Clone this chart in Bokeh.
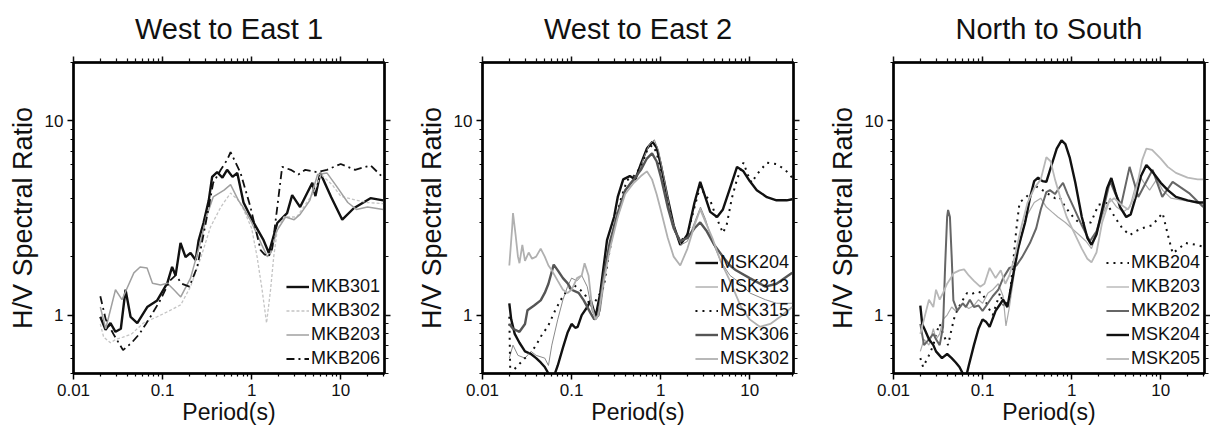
from bokeh.plotting import figure
from bokeh.layouts import row
from bokeh.models import (LogAxis, FixedTicker, CustomJSTickFormatter, Legend, LegendItem)
from bokeh.embed import file_html
from bokeh.resources import INLINE

FONT = "Liberation Sans"

# ---------------- data ----------------
x_ticks = [0.01, 0.1, 1, 10]
y_ticks = [1, 10]

# Panel 1: West to East 1
T_MKB301 = [0.02, 0.0229, 0.026, 0.0296, 0.034, 0.0384, 0.0437, 0.052, 0.0672, 0.087, 0.113, 0.128, 0.14, 0.159, 0.181,
            0.206, 0.235, 0.254, 0.288, 0.33, 0.36, 0.41, 0.47, 0.53, 0.61, 0.69, 0.81, 1.05, 1.36, 1.56, 1.94, 2.5,
            2.85, 3.5, 4.8, 5.2, 5.9, 7.8, 10.4, 14, 21.6, 30]
V_MKB301 = [0.98, 0.84, 0.91, 0.82, 0.85, 1.35, 0.98, 0.91, 1.1, 1.19, 1.46, 1.77, 1.6, 2.35, 1.99,
            2.09, 1.92, 2.43, 2.98, 3.9, 5.15, 5.45, 5.1, 5.6, 5.15, 5.4, 3.8, 3.0, 2.43, 2.09, 2.98, 3.35,
            4.15, 3.6, 4.8, 4.1, 5.4, 4.06, 3.1, 3.55, 4.0, 3.9]

T_MKB302 = [0.02, 0.0218, 0.026, 0.03, 0.036, 0.045, 0.061, 0.087, 0.123, 0.16, 0.206, 0.27, 0.345, 0.45, 0.58, 0.71,
            0.81, 1.0, 1.15, 1.31, 1.47, 1.63, 1.77, 1.94, 2.3, 3.2, 4.0, 5.0, 6.0, 8.0, 10, 15, 20, 30]
V_MKB302 = [0.9, 0.77, 0.72, 0.75, 0.77, 0.8, 0.91, 0.98, 1.06, 1.13, 1.4, 1.99, 2.84, 3.6, 4.25, 3.9,
            3.5, 2.8, 2.0, 1.35, 0.91, 1.35, 2.0, 2.74, 3.2, 3.2, 3.7, 4.3, 5.3, 4.7, 4.1, 3.9, 3.8, 3.75]

T_MKB203 = [0.02, 0.023, 0.0296, 0.035, 0.0476, 0.056, 0.067, 0.077, 0.095, 0.113, 0.134, 0.16, 0.206, 0.27, 0.31,
            0.37, 0.49, 0.58, 0.71, 0.8, 1.0, 1.3, 1.5, 1.65, 1.9, 2.4, 3.0, 3.5, 4.5, 5.5, 7.0, 9.0, 12, 15, 20, 30]
V_MKB203 = [1.1, 0.85, 1.35, 1.2, 1.65, 1.77, 1.75, 1.46, 1.43, 1.46, 1.35, 1.24, 1.55, 2.43, 3.2,
            4.06, 4.4, 4.7, 3.9, 3.6, 3.0, 2.3, 2.0, 2.1, 2.7, 3.2, 3.1, 3.3, 3.9, 5.3, 5.4, 4.6, 3.8, 3.5, 3.6, 3.5]

T_MKB206 = [0.02, 0.023, 0.028, 0.036, 0.045, 0.055, 0.065, 0.075, 0.095, 0.12, 0.14, 0.165, 0.2, 0.245, 0.29, 0.33,
            0.37, 0.45, 0.53, 0.58, 0.65, 0.75, 0.97, 1.26, 1.4, 1.55, 1.7, 1.94, 2.2, 2.75, 3.35, 4.0, 5.4, 7.0,
            10, 14.5, 21.6, 30]
V_MKB206 = [1.25, 0.95, 0.8, 0.66, 0.72, 0.8, 0.9, 1.0, 1.2, 1.5, 1.6, 1.45, 1.4, 1.77, 2.64, 3.6,
            4.8, 5.6, 6.3, 6.9, 6.2, 5.4, 3.6, 2.16, 2.05, 2.0, 2.2, 3.6, 5.8, 5.6, 5.3, 5.6, 5.45, 5.6,
            6.0, 5.6, 5.9, 5.1]

# Panel 2: West to East 2
T_MSK204 = [0.02, 0.021, 0.023, 0.026, 0.03, 0.035, 0.04, 0.045, 0.05, 0.055, 0.063, 0.07, 0.08, 0.09, 0.1, 0.11,
            0.117, 0.13, 0.15, 0.164, 0.186, 0.21, 0.25, 0.3, 0.33, 0.38, 0.45, 0.52, 0.6, 0.7, 0.81, 0.9, 1.0,
            1.2, 1.4, 1.66, 2.0, 2.4, 2.78, 3.2, 3.6, 4.3, 5.0, 6.0, 7.2, 8.5, 10, 12, 15.6, 20, 26, 30]
V_MSK204 = [1.15, 0.95, 0.8, 0.72, 0.65, 0.63, 0.6, 0.57, 0.54, 0.5, 0.48, 0.55, 0.68, 0.81, 0.9, 0.86,
            0.87, 1.0, 1.1, 1.19, 0.98, 1.3, 2.43, 3.2, 4.06, 5.0, 5.2, 5.0, 6.0, 7.2, 7.8, 7.3, 6.0,
            4.0, 2.9, 2.3, 2.6, 3.8, 4.85, 4.0, 3.4, 3.2, 3.5, 4.5, 5.8, 5.5, 4.9, 4.4, 4.05, 3.9, 3.9, 3.95]

T_MSK313 = [0.02, 0.022, 0.025, 0.03, 0.035, 0.04, 0.05, 0.055, 0.06, 0.07, 0.08, 0.09, 0.1, 0.115, 0.13, 0.15,
            0.17, 0.19, 0.21, 0.25, 0.3, 0.35, 0.45, 0.55, 0.65, 0.75, 0.85, 0.95, 1.1, 1.3, 1.5, 1.7, 2.0,
            2.4, 2.8, 3.2, 3.8, 4.7, 6, 8, 10, 15, 20, 30]
V_MSK313 = [0.6, 0.7, 0.62, 0.6, 0.65, 0.62, 0.6, 0.55, 0.7, 0.95, 1.2, 1.4, 1.55, 1.5, 1.6, 1.4,
            1.05, 0.95, 1.05, 1.9, 3.0, 3.8, 4.8, 5.2, 6.5, 7.6, 8.0, 7.0, 5.0, 3.3, 2.6, 2.3, 2.4,
            3.0, 3.6, 3.1, 2.4, 1.9, 1.6, 1.45, 1.3, 1.2, 1.15, 1.15]

T_MSK315 = [0.02, 0.0205, 0.025, 0.03, 0.035, 0.04, 0.047, 0.054, 0.065, 0.075, 0.09, 0.106, 0.127, 0.145, 0.164,
            0.19, 0.23, 0.26, 0.3, 0.36, 0.42, 0.5, 0.6, 0.7, 0.8, 0.9, 1.0, 1.2, 1.4, 1.66, 2.0, 2.4, 2.78,
            3.2, 3.6, 4.2, 4.7, 5.0, 5.5, 6.3, 7.2, 8.5, 9.5, 10.5, 12, 15.6, 20, 25, 30]
V_MSK315 = [0.98, 0.5, 0.55, 0.6, 0.64, 0.7, 0.8, 0.87, 1.05, 1.19, 1.35, 1.43, 1.34, 1.25, 1.1,
            1.2, 1.4, 2.0, 2.85, 4.0, 4.95, 5.2, 5.8, 7.0, 7.5, 6.9, 5.5, 3.8, 2.8, 2.4, 2.6, 3.6, 4.6,
            4.1, 3.9, 3.2, 2.84, 2.65, 2.9, 4.0, 5.0, 6.1, 5.3, 4.8, 5.3, 6.1, 6.0, 5.6, 5.1]

T_MSK306 = [0.02, 0.022, 0.026, 0.03, 0.032, 0.038, 0.045, 0.05, 0.055, 0.063, 0.07, 0.08, 0.09, 0.1, 0.12, 0.137,
            0.164, 0.18, 0.2, 0.23, 0.27, 0.33, 0.4, 0.5, 0.6, 0.7, 0.8, 0.9, 1.0, 1.2, 1.4, 1.66, 2.0, 2.4,
            2.78, 3.3, 4.0, 5.0, 6.0, 7.0, 10, 15, 20, 30]
V_MSK306 = [0.9, 0.85, 0.82, 0.9, 1.06, 1.12, 1.19, 1.3, 1.45, 1.82, 1.7, 1.55, 1.46, 1.35, 1.3, 1.19,
            1.02, 0.95, 1.0, 1.6, 2.4, 3.3, 4.4, 5.0, 5.6, 6.4, 6.8, 6.2, 5.2, 3.6, 2.8, 2.4, 2.5, 2.8,
            3.0, 2.7, 2.3, 2.0, 1.8, 1.7, 1.55, 1.4, 1.45, 1.65]

T_MSK302 = [0.02, 0.0215, 0.022, 0.0235, 0.025, 0.026, 0.028, 0.03, 0.033, 0.036, 0.04, 0.045, 0.05, 0.055, 0.06,
            0.07, 0.08, 0.09, 0.1, 0.115, 0.13, 0.14, 0.155, 0.17, 0.185, 0.2, 0.23, 0.27, 0.33, 0.4, 0.5, 0.6,
            0.7, 0.8, 0.9, 1.0, 1.2, 1.4, 1.66, 2.0, 2.4, 2.78, 3.2, 3.8, 4.7, 6, 8, 10, 13, 17, 22, 30]
V_MSK302 = [1.8, 2.8, 3.35, 2.6, 2.0, 1.85, 2.3, 1.9, 2.1, 1.95, 2.0, 2.2, 2.0, 1.8, 1.7,
            1.5, 1.35, 1.3, 1.35, 1.55, 1.6, 1.85, 1.6, 1.1, 0.95, 1.0, 1.5, 2.2, 3.2, 4.2, 4.8, 5.2,
            5.5, 5.0, 4.2, 3.5, 2.5, 2.0, 1.8, 2.2, 2.9, 3.5, 3.0, 2.5, 1.9, 1.5, 1.1, 0.95, 0.87, 0.9, 0.98, 1.1]

# Panel 3: North to South
T_MKB204 = [0.02, 0.0215, 0.025, 0.028, 0.03, 0.033, 0.036, 0.041, 0.045, 0.049, 0.057, 0.067, 0.075, 0.086, 0.1,
            0.115, 0.13, 0.157, 0.175, 0.2, 0.22, 0.24, 0.26, 0.3, 0.35, 0.4, 0.47, 0.55, 0.65, 0.73, 0.85,
            1.04, 1.2, 1.4, 1.65, 2.0, 2.46, 3.1, 3.7, 4.5, 5.2, 6.2, 8, 10.5, 12, 13.6, 16, 19, 25, 30]
V_MKB204 = [0.6, 0.54, 0.62, 0.7, 0.8, 0.9, 0.8, 0.7, 0.85, 1.0, 1.15, 1.3, 1.28, 1.32, 1.3,
            1.1, 1.0, 1.3, 1.1, 1.2, 1.85, 2.8, 3.8, 4.0, 4.3, 4.6, 4.4, 4.2, 4.0, 4.06, 3.6,
            3.2, 3.0, 2.98, 3.0, 3.7, 3.78, 3.16, 2.8, 2.58, 2.7, 2.8, 2.9, 3.35, 2.6, 2.08, 2.2, 2.35, 2.3, 2.25]

T_MKB203b = [0.02, 0.022, 0.025, 0.028, 0.03, 0.033, 0.036, 0.04, 0.045, 0.05, 0.06, 0.07, 0.08, 0.09, 0.1,
             0.115, 0.13, 0.15, 0.17, 0.183, 0.2, 0.23, 0.27, 0.32, 0.38, 0.45, 0.52, 0.6, 0.7, 0.85, 1.0,
             1.2, 1.45, 1.67, 1.9, 2.3, 2.7, 3.2, 3.8, 4.5, 5.2, 5.8, 6.5, 7.5, 9, 10.5, 13, 18, 25, 30]
V_MKB203b = [0.65, 0.75, 0.7, 0.85, 0.75, 0.8, 0.95, 1.0, 1.1, 1.05, 1.15, 1.08, 1.12, 1.2, 1.15,
             1.3, 1.35, 1.45, 1.25, 0.88, 1.1, 1.7, 2.5, 3.3, 3.8, 4.0, 3.6, 3.4, 3.2, 3.0, 2.8,
             2.6, 2.4, 2.2, 2.6, 3.4, 4.0, 3.6, 3.4, 3.6, 4.6, 5.2, 4.8, 4.4, 5.0, 4.4, 4.0, 3.9, 3.8, 3.7]

T_MKB202 = [0.02, 0.022, 0.025, 0.028, 0.03, 0.033, 0.036, 0.038, 0.04, 0.041, 0.043, 0.045, 0.047, 0.052, 0.06,
            0.065, 0.072, 0.08, 0.09, 0.1, 0.115, 0.13, 0.15, 0.17, 0.2, 0.24, 0.28, 0.34, 0.4, 0.45, 0.52,
            0.57, 0.65, 0.72, 0.8, 0.9, 1.05, 1.3, 1.6, 1.9, 2.3, 2.7, 3.1, 3.6, 4.47, 5.6, 8.1, 10.4, 13.6,
            20.8, 30]
V_MKB202 = [0.9, 0.7, 0.75, 0.8, 0.75, 0.7, 0.87, 1.8, 3.2, 3.48, 3.2, 2.0, 1.19, 1.05, 1.15,
            1.1, 1.2, 1.1, 1.12, 1.05, 1.15, 1.25, 1.35, 1.55, 1.75, 1.8, 2.0, 2.35, 2.8, 3.5, 4.3,
            4.4, 4.2, 4.5, 4.8, 4.2, 3.6, 2.9, 2.4, 2.7, 3.6, 4.9, 4.2, 3.7, 5.8, 4.06, 5.6, 4.06, 4.85,
            4.25, 3.6]

T_MSK204b = [0.02, 0.021, 0.023, 0.025, 0.028, 0.03, 0.035, 0.04, 0.045, 0.05, 0.055, 0.06, 0.066, 0.07, 0.08,
             0.09, 0.1, 0.11, 0.12, 0.14, 0.16, 0.17, 0.19, 0.22, 0.25, 0.3, 0.34, 0.38, 0.42, 0.47, 0.52,
             0.6, 0.68, 0.77, 0.85, 0.95, 1.1, 1.3, 1.5, 1.67, 1.9, 2.2, 2.5, 2.79, 3.1, 3.5, 4.1, 4.6, 5.2,
             6.0, 6.9, 8, 10, 12, 14.8, 20, 26, 30]
V_MSK204b = [1.12, 0.9, 0.82, 0.75, 0.7, 0.65, 0.6, 0.63, 0.6, 0.57, 0.54, 0.5, 0.49, 0.55, 0.7,
             0.85, 0.95, 0.92, 0.87, 1.05, 1.15, 1.2, 1.1, 1.6, 2.2, 3.0, 4.0, 4.9, 5.1, 4.9, 4.85,
             6.0, 7.2, 7.95, 7.6, 6.5, 4.8, 3.2, 2.5, 2.3, 2.6, 3.5, 4.5, 5.08, 4.3, 3.6, 3.2, 3.3, 4.0,
             5.2, 5.93, 5.5, 4.8, 4.4, 4.06, 3.9, 3.8, 3.8]

T_MSK205 = [0.02, 0.022, 0.025, 0.028, 0.03, 0.033, 0.036, 0.04, 0.044, 0.047, 0.055, 0.062, 0.07, 0.08, 0.094,
            0.105, 0.12, 0.14, 0.16, 0.18, 0.2, 0.23, 0.27, 0.32, 0.38, 0.45, 0.52, 0.58, 0.65, 0.75, 0.88,
            1.05, 1.3, 1.5, 1.67, 1.9, 2.2, 2.6, 3.0, 3.6, 4.3, 5.0, 5.6, 6.2, 6.9, 8, 10, 12, 14.8, 20, 26, 30]
V_MSK205 = [0.8, 0.95, 1.2, 1.1, 1.35, 1.2, 1.3, 1.45, 1.55, 1.64, 1.7, 1.72, 1.6, 1.5, 1.4,
            1.45, 1.75, 1.55, 1.7, 1.45, 1.6, 2.0, 2.8, 3.8, 4.5, 5.0, 6.5, 6.2, 5.0, 4.0, 3.2,
            2.7, 2.2, 1.95, 1.87, 2.1, 3.0, 3.8, 4.0, 3.7, 3.5, 4.0, 5.0, 6.3, 7.2, 7.1, 6.4, 5.8, 5.4, 5.1, 5.0, 5.0]

panels = [
    dict(title="West to East 1", border=(73, 19), width=403,
         series=[("MKB301", T_MKB301, V_MKB301, "#111111", 2.4, "solid"),
                 ("MKB302", T_MKB302, V_MKB302, "#c4c4c4", 1.3, "3 2"),
                 ("MKB203", T_MKB203, V_MKB203, "#a0a0a0", 1.5, "solid"),
                 ("MKB206", T_MKB206, V_MKB206, "#111111", 1.8, "8 4 2 4")]),
    dict(title="West to East 2", border=(79, 13), width=403,
         series=[("MSK204", T_MSK204, V_MSK204, "#111111", 2.4, "solid"),
                 ("MSK313", T_MSK313, V_MSK313, "#8a8a8a", 1.0, "solid"),
                 ("MSK315", T_MSK315, V_MSK315, "#111111", 2.0, "2 5"),
                 ("MSK306", T_MSK306, V_MSK306, "#555555", 2.4, "solid"),
                 ("MSK302", T_MSK302, V_MSK302, "#b0b0b0", 1.8, "solid")]),
    dict(title="North to South", border=(87, 5), width=404,
         series=[("MKB204", T_MKB204, V_MKB204, "#111111", 2.0, "2 5"),
                 ("MKB203", T_MKB203b, V_MKB203b, "#aaaaaa", 1.2, "solid"),
                 ("MKB202", T_MKB202, V_MKB202, "#666666", 2.0, "solid"),
                 ("MSK204", T_MSK204b, V_MSK204b, "#111111", 2.4, "solid"),
                 ("MSK205", T_MSK205, V_MSK205, "#b8b8b8", 1.8, "solid")]),
]

x_minor = [0.02, 0.03, 0.04, 0.05, 0.06, 0.07, 0.08, 0.09, 0.2, 0.3, 0.4, 0.5, 0.6, 0.7, 0.8, 0.9,
           2, 3, 4, 5, 6, 7, 8, 9, 20, 30]
y_minor = [0.5, 0.6, 0.7, 0.8, 0.9, 2, 3, 4, 5, 6, 7, 8, 9, 20]

figs = []
for i, pan in enumerate(panels):
    p = figure(width=pan["width"], height=437, x_axis_type="log", y_axis_type="log",
               x_range=(0.01, 31), y_range=(0.5, 20), output_backend="svg",
               toolbar_location=None, min_border_left=pan["border"][0],
               min_border_right=pan["border"][1], min_border_top=62, min_border_bottom=64)
    p.grid.visible = False
    p.outline_line_color = "#111111"
    p.outline_line_width = 2.5
    p.outline_line_alpha = 1
    p.background_fill_color = "white"
    p.border_fill_color = "white"

    p.title.text = pan["title"]
    p.title.align = "center"
    p.title.vertical_align = "top"
    p.title.text_font = FONT
    p.title.text_font_size = "29px"
    p.title.text_font_style = "normal"
    p.title.text_color = "#111111"
    p.title.standoff = 20

    xt = FixedTicker(ticks=x_ticks, minor_ticks=x_minor)
    yt = FixedTicker(ticks=y_ticks, minor_ticks=y_minor)
    fmt = CustomJSTickFormatter(code="return String(tick);")
    blank = CustomJSTickFormatter(code="return '';")

    xa = p.xaxis[0]
    xa.ticker = xt
    xa.formatter = fmt
    xa.axis_label = "Period(s)"
    ya = p.yaxis[0]
    ya.ticker = yt
    ya.formatter = fmt
    ya.axis_label = "H/V Spectral Ratio"
    for ax in (xa, ya):
        ax.axis_label_text_font = FONT
        ax.axis_label_text_font_style = "normal"
        ax.major_label_text_font = FONT
        ax.major_label_text_font_size = "17px"
        ax.major_label_text_color = "#111111"
        ax.axis_label_text_color = "#111111"
        ax.major_tick_out = 6
        ax.major_tick_in = 0
        ax.minor_tick_out = 3
        ax.minor_tick_in = 0
        ax.axis_line_width = 2
        ax.major_tick_line_width = 1.5
        ax.minor_tick_line_width = 1.2
        ax.major_label_standoff = 4
    xa.axis_label_text_font_size = "23px"
    xa.axis_label_standoff = 0
    ya.axis_label_text_font_size = "27px"
    ya.axis_label_standoff = 4
    ya.major_label_orientation = "horizontal"

    top = LogAxis(ticker=xt, formatter=blank, major_tick_out=6, major_tick_in=0,
                  minor_tick_out=4, minor_tick_in=0, axis_line_width=2, major_label_standoff=0,
                  major_tick_line_width=1.5, minor_tick_line_width=1.2,
                  major_tick_line_color="#111111", minor_tick_line_color="#111111",
                  major_label_text_font_size="0px", axis_label_standoff=0)
    right = LogAxis(ticker=yt, formatter=blank, major_tick_out=6, major_tick_in=0,
                    minor_tick_out=4, minor_tick_in=0, axis_line_width=2, major_label_standoff=0,
                    major_tick_line_width=1.5, minor_tick_line_width=1.2,
                    major_tick_line_color="#111111", minor_tick_line_color="#111111",
                    major_label_text_font_size="0px", axis_label_standoff=0)
    p.add_layout(top, "above")
    p.add_layout(right, "right")

    items = []
    for name, T, V, col, w, dash in pan["series"]:
        r = p.line(T, V, line_color=col, line_width=w, line_dash=dash)
        items.append(LegendItem(label=name, renderers=[r]))
    leg = Legend(items=items, location="bottom_right", margin=0, padding=4,
                 label_text_font=FONT, label_text_font_size="18px", label_text_color="#111111",
                 glyph_width=23, glyph_height=17, label_height=17, spacing=3, label_standoff=2,
                 border_line_alpha=0, background_fill_alpha=0)
    p.add_layout(leg)
    figs.append(p)

layout = row(*figs)
open("out.html", "w").write(file_html(layout, INLINE))
